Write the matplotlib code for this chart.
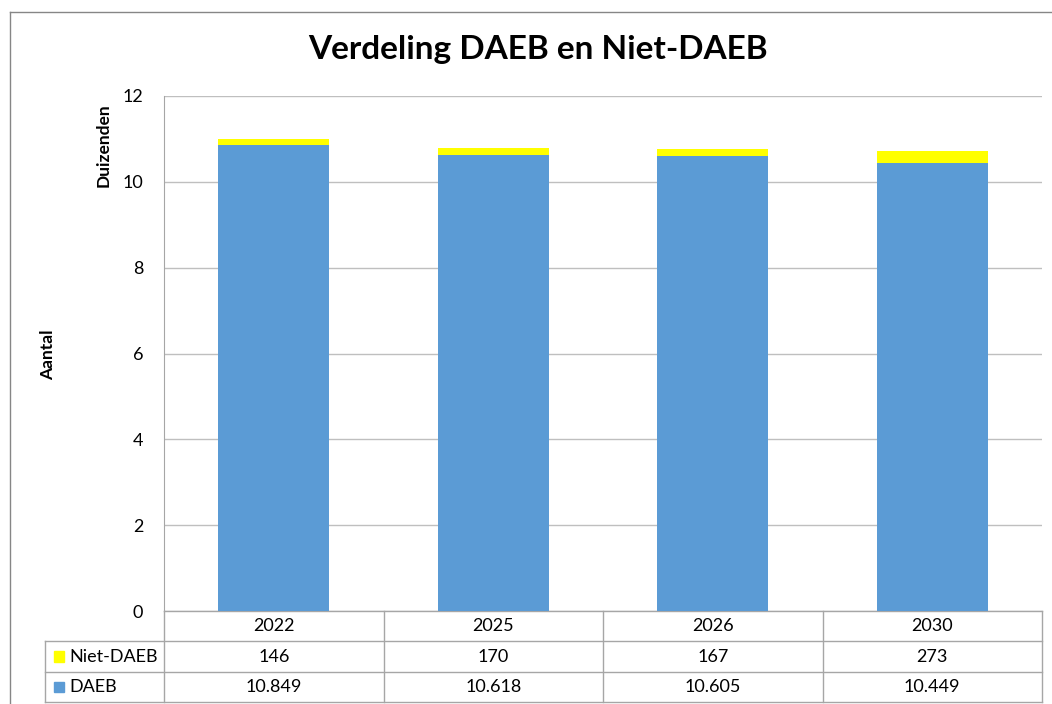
import matplotlib.pyplot as plt
from matplotlib.patches import Rectangle
import matplotlib.transforms as mtransforms

# data (Duizenden)
years = ["2022", "2025", "2026", "2030"]
daeb = [10849, 10618, 10605, 10449]
niet_daeb = [146, 170, 167, 273]
daeb_labels = ["10.849", "10.618", "10.605", "10.449"]
niet_labels = ["146", "170", "167", "273"]

blue = "#5B9BD5"
yellow = "#FFFF00"
grid_col = "#BFBFBF"
line_col = "#A6A6A6"

plt.rcParams['font.family'] = ['Lato', 'DejaVu Sans']

fig = plt.figure(figsize=(10.52, 7.04), dpi=100)
ax = fig.add_axes([164 / 1052, 93 / 704, 878 / 1052, 515 / 704])

x = list(range(len(years)))
d_k = [v / 1000 for v in daeb]
n_k = [v / 1000 for v in niet_daeb]
ax.bar(x, d_k, width=0.505, color=blue, zorder=3)
ax.bar(x, n_k, width=0.505, bottom=d_k, color=yellow, zorder=3)

ax.set_xlim(-0.5, len(years) - 0.5)
ax.set_ylim(0, 12)
ax.set_yticks(range(0, 13, 2))
ax.yaxis.grid(True, color=grid_col, linewidth=1)
ax.set_axisbelow(True)
ax.set_xticks([])
ax.tick_params(axis='y', length=0, labelsize=13, pad=15)
for s in ["top", "right", "bottom"]:
    ax.spines[s].set_visible(False)
ax.spines["left"].set_color(line_col)

# data table below the axis
trans = mtransforms.blended_transform_factory(ax.transData, ax.transAxes)
h = 515
rows = [0, -30 / h, -61 / h, -91 / h]
left_x = -0.5 - (164 - 45) / (878 / 4)
lw = 1
# horizontal lines
ax.plot([-0.5, 3.5], [rows[0]] * 2, transform=trans, color=line_col, lw=lw, clip_on=False)
for r in rows[1:]:
    ax.plot([left_x, 3.5], [r] * 2, transform=trans, color=line_col, lw=lw, clip_on=False)
# vertical lines
for xv in [-0.5, 0.5, 1.5, 2.5, 3.5]:
    ax.plot([xv, xv], [rows[0], rows[3]], transform=trans, color=line_col, lw=lw, clip_on=False)
ax.plot([left_x, left_x], [rows[1], rows[3]], transform=trans, color=line_col, lw=lw, clip_on=False)

mid = lambda i: (rows[i] + rows[i + 1]) / 2
for i, yr in enumerate(years):
    ax.text(i, mid(0), yr, transform=trans, ha='center', va='center', fontsize=13)
    ax.text(i, mid(1), niet_labels[i], transform=trans, ha='center', va='center', fontsize=13)
    ax.text(i, mid(2), daeb_labels[i], transform=trans, ha='center', va='center', fontsize=13)

key_w = 0.045
for r, lab, col in [(1, "Niet-DAEB", yellow), (2, "DAEB", blue)]:
    ax.add_patch(Rectangle((left_x + 0.04, mid(r) - 0.01), key_w, 0.02, transform=trans,
                           color=col, clip_on=False))
    ax.text(left_x + 0.11, mid(r), lab, transform=trans, ha='left', va='center', fontsize=13)

# axis labels
fig.text(48 / 1052, 1 - 355 / 704, "Aantal", rotation=90, ha='center', va='center',
         fontsize=12.5, fontweight='bold')
fig.text(104 / 1052, 1 - 145 / 704, "Duizenden", rotation=90, ha='center', va='center',
         fontsize=12.5, fontweight='bold')

fig.text(538 / 1052, 1 - 50 / 704, "Verdeling DAEB en Niet-DAEB", ha='center', va='center',
         fontsize=24, fontweight='bold')

# outer chart border
fig.add_artist(plt.Line2D([10 / 1052, 10 / 1052], [0, 1 - 12 / 704], color="#868686", lw=1))
fig.add_artist(plt.Line2D([10 / 1052, 1], [1 - 12 / 704, 1 - 12 / 704], color="#868686", lw=1))

fig.savefig("out.png", dpi=100)
